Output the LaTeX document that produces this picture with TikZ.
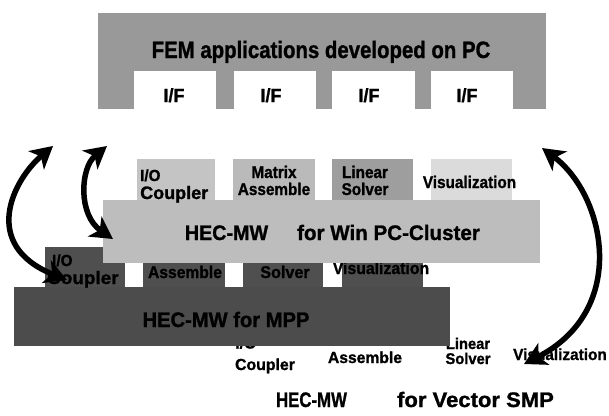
\documentclass[tikz,border=0pt]{standalone}
\usepackage{fontspec}
\setmainfont{Liberation Sans}[BoldFeatures={FakeBold=1.2}]
\usepackage{graphicx}
\usetikzlibrary{arrows.meta}
\newcommand\tx[3]{\scalebox{#2}[1]{\fontsize{#1}{#1}\selectfont\bfseries #3}}
\definecolor{femgray}{gray}{0.60}
\definecolor{clgray}{gray}{0.74}
\definecolor{cmodA}{gray}{0.77}
\definecolor{cmodB}{gray}{0.73}
\definecolor{cmodC}{gray}{0.62}
\definecolor{cmodD}{gray}{0.86}
\definecolor{mppgray}{gray}{0.30}
\definecolor{mppmod}{gray}{0.31}
\begin{document}
\begin{tikzpicture}[x=1pt,y=-1pt,
  lbl/.style={inner sep=0pt, anchor=base},
  lbll/.style={inner sep=0pt, anchor=base west},
  arr/.style={line width=5.5pt,
    {Stealth[length=22pt,width=24pt,inset=6pt]}-{Stealth[length=22pt,width=24pt,inset=6pt]}}]
\useasboundingbox (0,0) rectangle (609,415);

% ---------- Vector SMP layer (text only) ----------
\node[lbll] (v1a) at (235,348.5) {\tx{16}{1}{I/O}};
\node[lbl] (v1b) at (265,370) {\tx{16}{0.99}{Coupler}};
\node[lbl] (v2) at (365,363) {\tx{16}{0.98}{Assemble}};
\node[lbl] (v3a) at (468,349) {\tx{15.5}{0.95}{Linear}};
\node[lbl] (v3b) at (468,364) {\tx{15.5}{0.95}{Solver}};
\node[lbl] (v4) at (560,360) {\tx{16}{0.96}{Visualization}};
\node[lbl] (v5) at (311.5,407) {\tx{21}{0.8}{HEC-MW}};
\node[lbl] (v6) at (475.5,407) {\tx{21}{1.05}{for Vector SMP}};

% ---------- MPP layer ----------
\fill[mppmod] (45,247) rectangle (125,288);
\fill[mppmod] (143,247) rectangle (225,288);
\fill[mppmod] (243,247) rectangle (323,288);
\fill[mppmod] (342,247) rectangle (423,288);
\fill[mppgray] (14,287) rectangle (450,346);
\node[lbll] (m1a) at (52,266) {\tx{16}{0.95}{I/O}};
\node[lbll] (m1b) at (47,284) {\tx{18}{1.05}{Coupler}};
\node[lbl] (m2) at (185,278) {\tx{17}{0.92}{Assemble}};
\node[lbl] (m3) at (285,278) {\tx{17}{0.95}{Solver}};
\node[lbl] (m4) at (381,274) {\tx{17}{0.93}{Visualization}};
\node[lbl] (m5) at (226,327) {\tx{21}{0.96}{HEC-MW for MPP}};

% ---------- Win PC-Cluster layer ----------
\fill[cmodA] (137,159) rectangle (215,201);
\fill[cmodB] (233,159) rectangle (315,201);
\fill[cmodC] (332,159) rectangle (413,201);
\fill[cmodD] (431,159) rectangle (512,201);
\fill[clgray] (103,200) rectangle (540,263);
\node[lbll] (c1a) at (140,181) {\tx{16}{0.95}{I/O}};
\node[lbll] (c1b) at (140,199) {\tx{18}{1}{Coupler}};
\node[lbl] (c2a) at (274,178) {\tx{17}{0.9}{Matrix}};
\node[lbl] (c2b) at (274,195) {\tx{17}{0.9}{Assemble}};
\node[lbl] (c3a) at (365,178) {\tx{17}{0.9}{Linear}};
\node[lbl] (c3b) at (365,195) {\tx{17}{0.9}{Solver}};
\node[lbl] (c4) at (469.5,188) {\tx{17}{0.9}{Visualization}};
\node[lbl] (c5) at (226.5,240) {\tx{21}{0.94}{HEC-MW}};
\node[lbl] (c6) at (388.5,240) {\tx{21}{0.98}{for Win PC-Cluster}};

% ---------- FEM layer ----------
\fill[femgray] (98,13) rectangle (546,108.5);
\fill[white] (134,71) rectangle (216,109);
\fill[white] (234,71) rectangle (316,109);
\fill[white] (332,71) rectangle (415,109);
\fill[white] (431,71) rectangle (513,109);
\node[lbl] (fem) at (321,58) {\tx{23.7}{0.86}{FEM applications developed on PC}};
\node[lbl] (if1) at (174,102) {\tx{19}{0.95}{I/F}};
\node[lbl] (if2) at (271,102) {\tx{19}{0.95}{I/F}};
\node[lbl] (if3) at (369,102) {\tx{19}{0.95}{I/F}};
\node[lbl] (if4) at (467,102) {\tx{19}{0.95}{I/F}};

% ---------- arrows ----------
\coordinate (a1s) at (67,280);
\coordinate (a1e) at (53,146);
\coordinate (a2s) at (113,239);
\coordinate (a2e) at (107,146);
\coordinate (a3s) at (524,364);
\coordinate (a3e) at (542,148);
\draw[arr] (a1s) .. controls (-20,245) and (13,180) .. (a1e);
\draw[arr] (a2s) .. controls (78,215) and (80,168) .. (a2e);
\draw[arr] (a3s) .. controls (630,310) and (605,195) .. (a3e);
\end{tikzpicture}
\end{document}
